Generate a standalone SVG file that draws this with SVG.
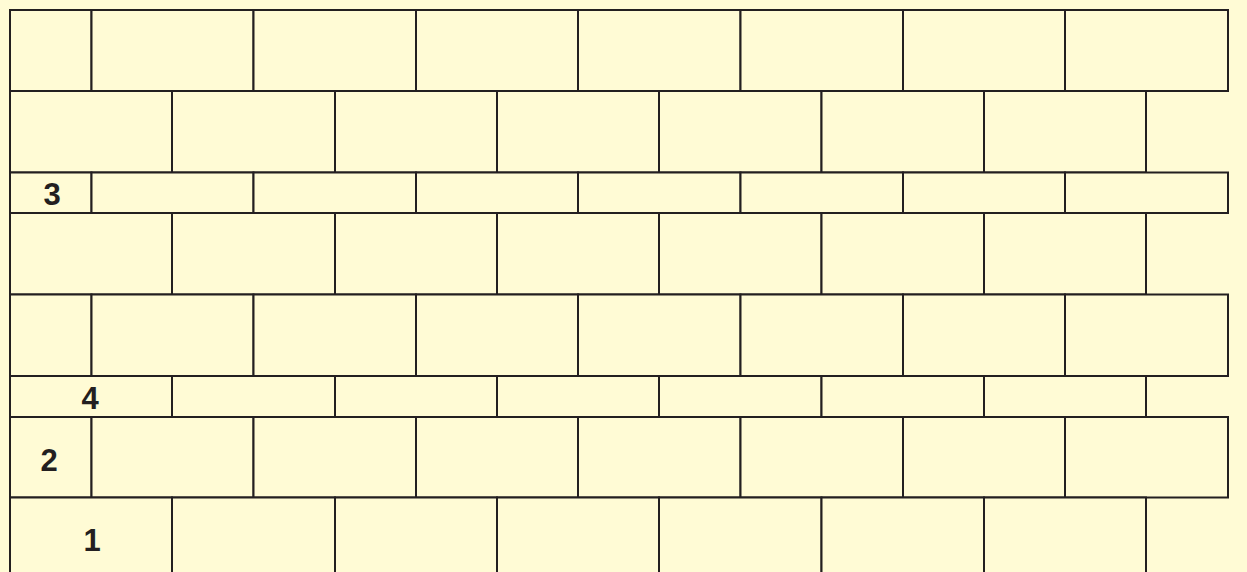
<svg xmlns="http://www.w3.org/2000/svg" width="1247" height="572" viewBox="0 0 1247 572">
<style>
.b{fill:#FFFBD5;stroke:#231F20;stroke-width:2}
.n{font-family:"Liberation Sans",Arial,sans-serif;font-weight:bold;font-size:31px;fill:#231F20;text-anchor:middle}
</style>
<rect width="1247" height="572" fill="#FFFBD5"/>
<g id="row1">
<rect class="b" x="10" y="10" width="81.5" height="81"/>
<rect class="b" x="91.5" y="10" width="162" height="81"/>
<rect class="b" x="253.5" y="10" width="162.5" height="81"/>
<rect class="b" x="416" y="10" width="162" height="81"/>
<rect class="b" x="578" y="10" width="162.5" height="81"/>
<rect class="b" x="740.5" y="10" width="162.5" height="81"/>
<rect class="b" x="903" y="10" width="162" height="81"/>
<rect class="b" x="1065" y="10" width="163" height="81"/>
</g>
<g id="row2">
<rect class="b" x="10" y="91" width="162" height="81.5"/>
<rect class="b" x="172" y="91" width="163" height="81.5"/>
<rect class="b" x="335" y="91" width="162" height="81.5"/>
<rect class="b" x="497" y="91" width="162" height="81.5"/>
<rect class="b" x="659" y="91" width="162.5" height="81.5"/>
<rect class="b" x="821.5" y="91" width="162.5" height="81.5"/>
<rect class="b" x="984" y="91" width="162" height="81.5"/>
</g>
<g id="row3">
<rect class="b" x="10" y="172.5" width="81.5" height="40.5"/>
<rect class="b" x="91.5" y="172.5" width="162" height="40.5"/>
<rect class="b" x="253.5" y="172.5" width="162.5" height="40.5"/>
<rect class="b" x="416" y="172.5" width="162" height="40.5"/>
<rect class="b" x="578" y="172.5" width="162.5" height="40.5"/>
<rect class="b" x="740.5" y="172.5" width="162.5" height="40.5"/>
<rect class="b" x="903" y="172.5" width="162" height="40.5"/>
<rect class="b" x="1065" y="172.5" width="163" height="40.5"/>
</g>
<g id="row4">
<rect class="b" x="10" y="213" width="162" height="81.5"/>
<rect class="b" x="172" y="213" width="163" height="81.5"/>
<rect class="b" x="335" y="213" width="162" height="81.5"/>
<rect class="b" x="497" y="213" width="162" height="81.5"/>
<rect class="b" x="659" y="213" width="162.5" height="81.5"/>
<rect class="b" x="821.5" y="213" width="162.5" height="81.5"/>
<rect class="b" x="984" y="213" width="162" height="81.5"/>
</g>
<g id="row5">
<rect class="b" x="10" y="294.5" width="81.5" height="81.5"/>
<rect class="b" x="91.5" y="294.5" width="162" height="81.5"/>
<rect class="b" x="253.5" y="294.5" width="162.5" height="81.5"/>
<rect class="b" x="416" y="294.5" width="162" height="81.5"/>
<rect class="b" x="578" y="294.5" width="162.5" height="81.5"/>
<rect class="b" x="740.5" y="294.5" width="162.5" height="81.5"/>
<rect class="b" x="903" y="294.5" width="162" height="81.5"/>
<rect class="b" x="1065" y="294.5" width="163" height="81.5"/>
</g>
<g id="row6">
<rect class="b" x="10" y="376" width="162" height="41"/>
<rect class="b" x="172" y="376" width="163" height="41"/>
<rect class="b" x="335" y="376" width="162" height="41"/>
<rect class="b" x="497" y="376" width="162" height="41"/>
<rect class="b" x="659" y="376" width="162.5" height="41"/>
<rect class="b" x="821.5" y="376" width="162.5" height="41"/>
<rect class="b" x="984" y="376" width="162" height="41"/>
</g>
<g id="row7">
<rect class="b" x="10" y="417" width="81.5" height="80.5"/>
<rect class="b" x="91.5" y="417" width="162" height="80.5"/>
<rect class="b" x="253.5" y="417" width="162.5" height="80.5"/>
<rect class="b" x="416" y="417" width="162" height="80.5"/>
<rect class="b" x="578" y="417" width="162.5" height="80.5"/>
<rect class="b" x="740.5" y="417" width="162.5" height="80.5"/>
<rect class="b" x="903" y="417" width="162" height="80.5"/>
<rect class="b" x="1065" y="417" width="163" height="80.5"/>
</g>
<g id="row8">
<rect class="b" x="10" y="497.5" width="162" height="90"/>
<rect class="b" x="172" y="497.5" width="163" height="90"/>
<rect class="b" x="335" y="497.5" width="162" height="90"/>
<rect class="b" x="497" y="497.5" width="162" height="90"/>
<rect class="b" x="659" y="497.5" width="162.5" height="90"/>
<rect class="b" x="821.5" y="497.5" width="162.5" height="90"/>
<rect class="b" x="984" y="497.5" width="162" height="90"/>
</g>
<g id="labels">
<text class="n" x="52" y="204.5">3</text>
<text class="n" x="90" y="408.5">4</text>
<text class="n" x="49" y="470.5">2</text>
<text class="n" x="92" y="550.5">1</text>
</g>
</svg>
